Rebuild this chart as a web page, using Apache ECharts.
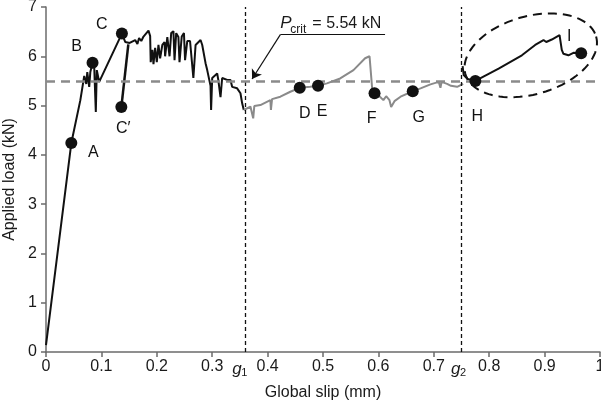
<!DOCTYPE html>
<html><head><meta charset="utf-8">
<script src="https://cdn.jsdelivr.net/npm/echarts@6/dist/echarts.min.js"></script>
<style>html,body{margin:0;padding:0;background:#fff}#c{width:601px;height:405px}</style>
</head><body><div id="c"></div>
<script>
// ---- data ----
const slip1 = [0,0.0457,0.062,0.069,0.0727,0.0745,0.078,0.080,0.084,0.087,0.0899,0.0917,0.096,0.137,0.143,0.151,0.161,0.165,0.168,0.172,0.176,0.185,0.188,0.189,0.192,0.194,0.197,0.200,0.203,0.206,0.210,0.214,0.215,0.219,0.223,0.226,0.230,0.232,0.235,0.239,0.241,0.245,0.249,0.251,0.255,0.260,0.266,0.270,0.279,0.282,0.288,0.291,0.297,0.298,0.300,0.309,0.311,0.315,0.318,0.327,0.333,0.336,0.345,0.351,0.354,0.357];
const load1 = [0.14,4.24,5.11,5.60,5.44,5.68,5.38,5.68,5.87,5.80,4.87,5.72,5.48,6.46,6.29,6.27,6.33,6.25,6.37,6.31,6.40,6.52,6.41,5.88,6.13,5.84,6.17,5.88,6.23,5.96,6.23,6.29,6.00,6.39,6.00,6.47,6.51,5.92,6.47,6.39,5.88,6.40,6.47,5.92,6.31,6.31,5.56,6.23,6.33,6.23,5.86,5.72,5.40,4.91,5.56,5.65,5.52,5.17,5.56,5.52,5.52,5.38,5.35,5.25,5.05,4.91];
const slipReload = [0.136,0.1486];
const loadReload = [4.97,6.24];
const slip2 = [0.357,0.369,0.374,0.376,0.387,0.405,0.406,0.408,0.423,0.441,0.458,0.477,0.491,0.507,0.531,0.555,0.576,0.584,0.589,0.593,0.600,0.609,0.614,0.620,0.623,0.629,0.640,0.662,0.676,0.694,0.709,0.712,0.714,0.724,0.731,0.742,0.753];
const load2 = [4.91,4.98,4.74,4.99,5.01,5.11,4.91,5.13,5.18,5.28,5.36,5.38,5.40,5.45,5.55,5.72,5.96,6.00,5.31,5.25,5.21,5.11,5.19,5.11,4.97,5.09,5.18,5.29,5.35,5.43,5.48,5.36,5.48,5.44,5.40,5.38,5.44];
const slip3 = [0.752,0.754,0.761,0.775,0.817,0.859,0.883,0.898,0.903,0.913,0.927,0.931,0.934,0.943,0.952,0.966];
const load3 = [5.80,5.62,5.54,5.50,5.75,6.02,6.23,6.33,6.29,6.34,6.43,6.13,6.05,6.02,6.07,6.06];
const pointNames = ['A','B','C','C\u2032','D','E','F','G','H','I'];
const pointSlip  = [0.0457,0.084,0.137,0.136,0.458,0.491,0.593,0.662,0.775,0.966];
const pointLoad  = [4.24,5.87,6.46,4.97,5.36,5.40,5.25,5.29,5.50,6.06];
const pCrit = 5.5;
const g1 = 0.356, g2 = 0.751;
const xTicks = [0,0.1,0.2,0.3,0.4,0.5,0.6,0.7,0.8,0.9,1];
const yTicks = [0,1,2,3,4,5,6,7];

// ---- styles ----
const labelOffsets = {'A':[22,10],'B':[-16,-16],'C':[-20,-9],'C\u2032':[2,22],'D':[5,26],'E':[4,26],'F':[-3,25],'G':[6,26],'H':[2,36],'I':[-12,-17]};
const FONT = '"Liberation Sans", Arial, Helvetica, sans-serif';
const FS = 16;
const zip = (xs, ys) => xs.map((x, i) => [x, ys[i]]);

const chart = echarts.init(document.getElementById('c'));
const option = {
  animation: false,
  grid: {left: 46, right: 1, top: 7, bottom: 53, containLabel: false, outerBoundsMode: 'none'},
  xAxis: {
    type: 'value', min: 0, max: 1, interval: 0.1,
    name: 'Global slip (mm)', nameLocation: 'middle', nameGap: 33,
    nameTextStyle: {fontFamily: FONT, fontSize: FS, color: '#1a1a1a'},
    axisLine: {lineStyle: {color: '#6b6b6b', width: 1.5}},
    axisTick: {length: 5, lineStyle: {color: '#6b6b6b', width: 1.5}},
    axisLabel: {fontFamily: FONT, fontSize: FS, color: '#1a1a1a', margin: 7, hideOverlap: false,
      formatter: v => xTicks.includes(Math.round(v*10)/10) ? String(Math.round(v*10)/10) : ''},
    splitLine: {show: false}
  },
  yAxis: {
    type: 'value', min: 0, max: 7, interval: 1,
    name: 'Applied load (kN)', nameLocation: 'middle', nameGap: 26,
    nameTextStyle: {fontFamily: FONT, fontSize: FS, color: '#1a1a1a'},
    axisLine: {show: true, lineStyle: {color: '#6b6b6b', width: 1.5}},
    axisTick: {show: true, length: 5, lineStyle: {color: '#6b6b6b', width: 1.5}},
    axisLabel: {fontFamily: FONT, fontSize: FS, color: '#1a1a1a', margin: 9},
    splitLine: {show: false}
  },
  series: [
    {
      type: 'line', data: zip(slip1, load1), symbol: 'none', z: 3,
      lineStyle: {color: '#111', width: 2},
      markLine: {
        silent: true, symbol: 'none', label: {show: false},
        data: [
          {xAxis: g1, lineStyle: {color: '#111', width: 1.3, type: [4, 3]}},
          {xAxis: g2, lineStyle: {color: '#111', width: 1.3, type: [4, 3]}},
          {yAxis: pCrit, lineStyle: {color: '#8a8a8a', width: 2.5, type: [9, 6]}}
        ]
      }
    },
    {type: 'line', data: zip(slipReload, loadReload), symbol: 'none', z: 3, lineStyle: {color: '#111', width: 2.5}},
    {type: 'line', data: zip(slip2, load2), symbol: 'none', z: 3, lineStyle: {color: '#8a8a8a', width: 2},
      markLine: {
        silent: true, label: {show: false}, symbolSize: 9,
        data: [
          [{coord: [0.612, 6.44], symbol: 'none'}, {coord: [0.423, 6.44], symbol: 'none'}],
          [{coord: [0.423, 6.44], symbol: 'none'}, {coord: [0.372, 5.54], symbol: 'arrow'}]
        ],
        lineStyle: {color: '#111', width: 1.2, type: 'solid'}
      }
    },
    {type: 'line', data: zip(slip3, load3), symbol: 'none', z: 3, lineStyle: {color: '#111', width: 2}},
    {
      type: 'scatter', z: 5, symbolSize: 12, itemStyle: {color: '#111', opacity: 1},
      data: pointNames.map((n, i) => ({name: n, value: [pointSlip[i], pointLoad[i]],
        label: {offset: labelOffsets[n]}})),
      label: {show: true, position: 'inside', formatter: p => p.name,
        fontFamily: FONT, fontSize: FS, color: '#111', opacity: 1}
    }
  ]
};
chart.setOption(option);

// annotations anchored to data coordinates
const px = (x, y) => chart.convertToPixel({gridIndex: 0}, [x, y]);
const ell = px(0.875, 6.02);
const a = 68, b = 39, rot = -16 * Math.PI / 180;
const ellPts = [];
for (let k = 0; k <= 96; k++) {
  const t = k / 96 * 2 * Math.PI;
  const ex = a * Math.cos(t), ey = b * Math.sin(t);
  ellPts.push([ell[0] + ex * Math.cos(rot) - ey * Math.sin(rot), ell[1] + ex * Math.sin(rot) + ey * Math.cos(rot)]);
}
const pP = px(0.423, 6.67);
const gy = px(0, 0)[1] + 17;
const g1x = px(g1, 0)[0], g2x = px(g2, 0)[0];
const txt = (x, y, s, size, italic, align) => ({type: 'text', x: x, y: y, z: 10,
  style: {text: s, fontFamily: FONT, fontSize: size, fontStyle: italic ? 'italic' : 'normal', fill: '#1a1a1a',
    textAlign: align || 'left', textVerticalAlign: 'middle'}});
chart.setOption({
  graphic: [
    {type: 'polyline', z: 10, shape: {points: ellPts}, style: {stroke: '#111', lineWidth: 2, lineDash: [9, 6], fill: null}},
    txt(pP[0], pP[1], 'P', 17, true),
    txt(pP[0] + 10, pP[1] + 6, 'crit', 12, false),
    txt(pP[0] + 32, pP[1], '= 5.54 kN', 16, false),
    txt(g1x - 11, gy, 'g', 17, true),
    txt(g1x - 2, gy + 4, '1', 11, false),
    txt(g2x - 11, gy, 'g', 17, true),
    txt(g2x - 2, gy + 4, '2', 11, false)
  ]
});
</script></body></html>
